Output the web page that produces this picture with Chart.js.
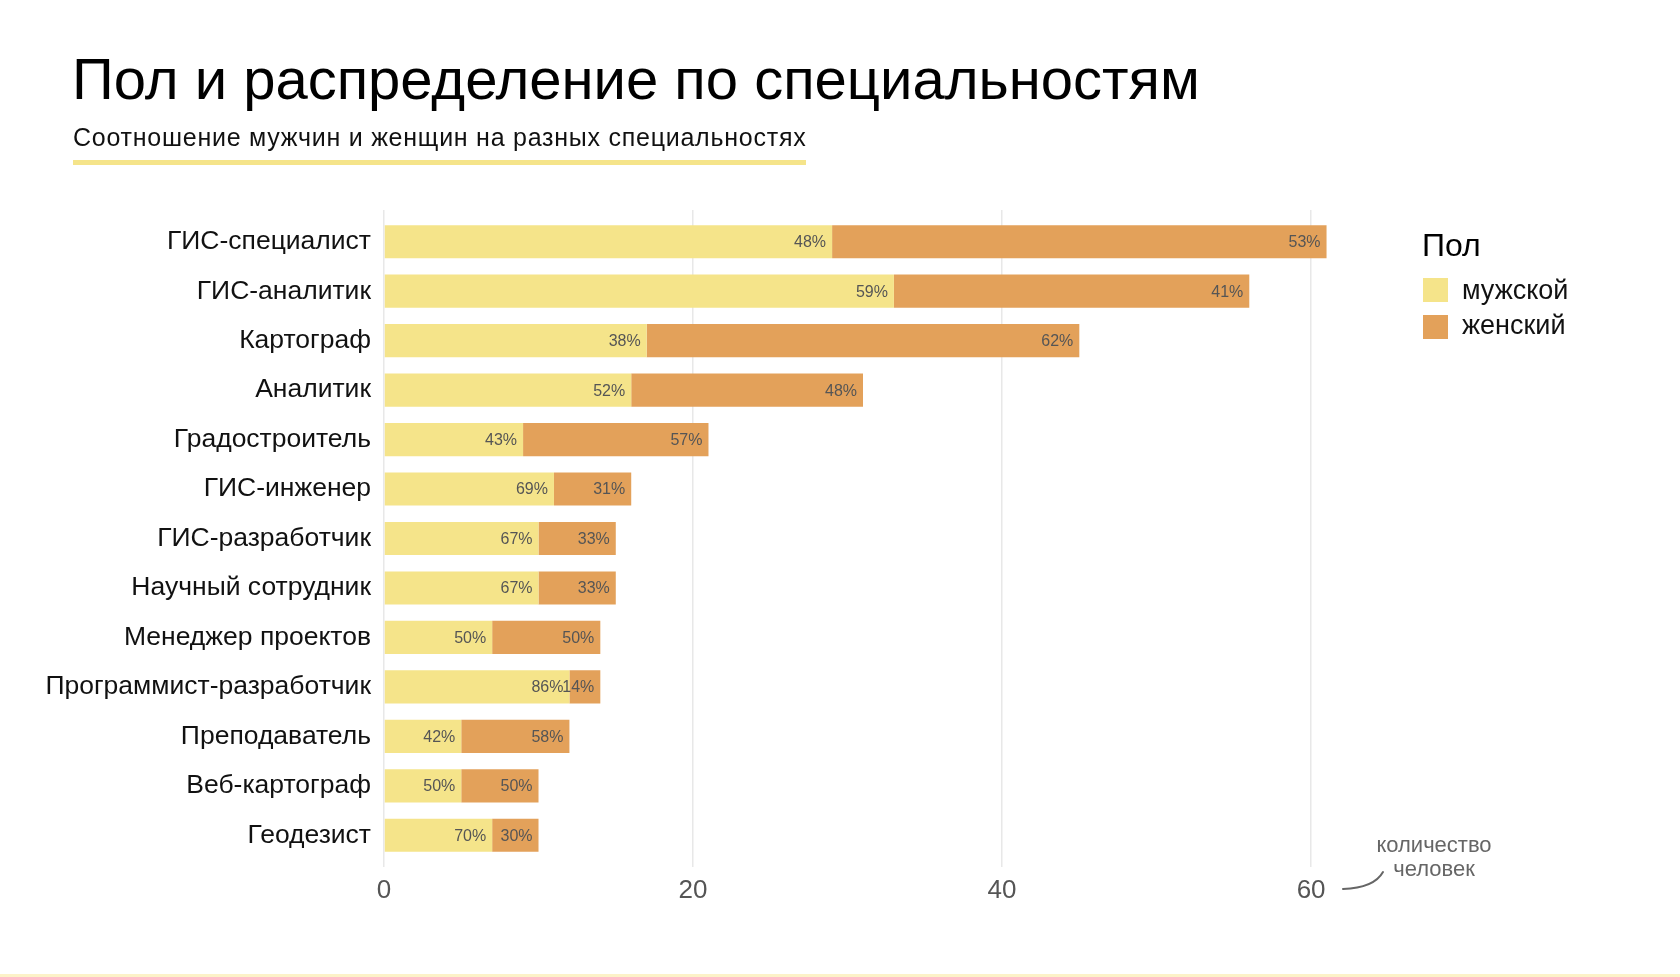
<!DOCTYPE html>
<html>
<head>
<meta charset="utf-8">
<script src="https://cdn.jsdelivr.net/npm/chart.js@4"></script>
<style>
  body { margin: 0; background: #fff; font-family: 'Liberation Sans', Arial, sans-serif; }
  #wrap { position: relative; width: 1680px; height: 977px; overflow: hidden; }
  #chart { position: absolute; left: 0; top: 0; }
  .abs { position: absolute; white-space: nowrap; }
  #title { left: 72px; top: 50px; font-size: 58px; line-height: 58px; color: #000; }
  #subtitle { left: 73px; top: 125px; font-size: 25px; line-height: 25px; letter-spacing: 0.75px; color: #111; }
  #underline { left: 73px; top: 160px; width: 733px; height: 5px; background: #f5e48a; }
  #legTitle { left: 1422px; top: 229px; font-size: 32px; line-height: 32px; color: #000; }
  .sw { position: absolute; left: 1423px; width: 25px; height: 24px; }
  .legText { left: 1462px; font-size: 27px; line-height: 27px; color: #111; }
  #note { left: 1334px; top: 833px; width: 200px; text-align: center; font-size: 22px; line-height: 24px; color: #666; }
  #bottomLine { left: 0; top: 974px; width: 1680px; height: 3px; background: #fcf2c8; }
</style>
</head>
<body>
<div id="wrap">
  <canvas id="chart" width="1680" height="977"></canvas>
  <div class="abs" id="title">Пол и распределение по специальностям</div>
  <div class="abs" id="subtitle">Соотношение мужчин и женщин на разных специальностях</div>
  <div class="abs" id="underline"></div>
  <div class="abs" id="legTitle">Пол</div>
  <div class="sw" style="top:278px; background:#f5e48a"></div>
  <div class="abs legText" style="top:277px">мужской</div>
  <div class="sw" style="top:315px; background:#e3a15a"></div>
  <div class="abs legText" style="top:312px">женский</div>
  <div class="abs" id="note">количество<br>человек</div>
  <svg class="abs" style="left:0;top:0" width="1680" height="977">
    <path d="M1343 889 Q1374 888 1383 872" fill="none" stroke="#666" stroke-width="2" stroke-linecap="round"/>
  </svg>
  <div class="abs" id="bottomLine"></div>
</div>
<script>
var categories = ['ГИС-специалист', 'ГИС-аналитик', 'Картограф', 'Аналитик', 'Градостроитель',
  'ГИС-инженер', 'ГИС-разработчик', 'Научный сотрудник', 'Менеджер проектов',
  'Программист-разработчик', 'Преподаватель', 'Веб-картограф', 'Геодезист'];
var male = [29, 33, 17, 16, 9, 11, 10, 10, 7, 12, 5, 5, 7];
var female = [32, 23, 28, 15, 12, 5, 5, 5, 7, 2, 7, 5, 3];
var malePct = [48, 59, 38, 52, 43, 69, 67, 67, 50, 86, 42, 50, 70];
var femalePct = [53, 41, 62, 48, 57, 31, 33, 33, 50, 14, 58, 50, 30];
var tickValues = [0, 20, 40, 60];

var fontFamily = "'Liberation Sans', Arial, sans-serif";

// percent labels at the right end of each segment
var pctLabels = {
    id: 'pctLabels',
    afterDatasetsDraw: function(chart) {
        var ctx = chart.ctx;
        var pcts = [malePct, femalePct];
        ctx.save();
        ctx.font = '16px ' + fontFamily;
        ctx.fillStyle = '#555';
        ctx.textAlign = 'right';
        ctx.textBaseline = 'middle';
        chart.data.datasets.forEach(function(ds, di) {
            chart.getDatasetMeta(di).data.forEach(function(bar, i) {
                ctx.fillText(pcts[di][i] + '%', bar.x - 6, bar.y + 1);
            });
        });
        ctx.restore();
    }
};

var ctx = document.getElementById('chart').getContext('2d');
var chart = new Chart(ctx, {
    type: 'bar',
    data: {
        labels: categories,
        datasets: [{
            label: 'мужской',
            backgroundColor: '#f5e48a',
            data: male
        }, {
            label: 'женский',
            backgroundColor: '#e3a15a',
            data: female
        }]
    },
    options: {
        indexAxis: 'y',
        responsive: false,
        animation: false,
        devicePixelRatio: 1,
        barPercentage: 0.67,
        categoryPercentage: 1,
        layout: { padding: { top: 210, right: 338, bottom: 57, left: 0 } },
        plugins: {
            legend: { display: false },
            tooltip: { enabled: false }
        },
        scales: {
            x: {
                stacked: true,
                min: 0,
                max: 62,
                afterBuildTicks: function(axis) {
                    axis.ticks = tickValues.map(function(v) { return { value: v }; });
                },
                afterFit: function(axis) { axis.height = 60; },
                grid: { color: '#e8e8e8', lineWidth: 1.5, tickLength: 7 },
                border: { display: false },
                ticks: {
                    color: '#555',
                    padding: 8,
                    font: { family: fontFamily, size: 26 }
                }
            },
            x2: {
                position: 'top',
                min: 0,
                max: 62,
                afterBuildTicks: function(axis) {
                    axis.ticks = tickValues.map(function(v) { return { value: v }; });
                },
                grid: { drawOnChartArea: false, color: '#e8e8e8', lineWidth: 1.5, tickLength: 7 },
                border: { display: false },
                ticks: { display: false }
            },
            y: {
                stacked: true,
                afterFit: function(axis) { axis.width = 384; },
                grid: { display: false, drawTicks: false },
                border: { display: false },
                ticks: {
                    color: '#111',
                    padding: 13,
                    font: { family: fontFamily, size: 26.5 }
                }
            }
        }
    },
    plugins: [pctLabels]
});
</script>
</body>
</html>
